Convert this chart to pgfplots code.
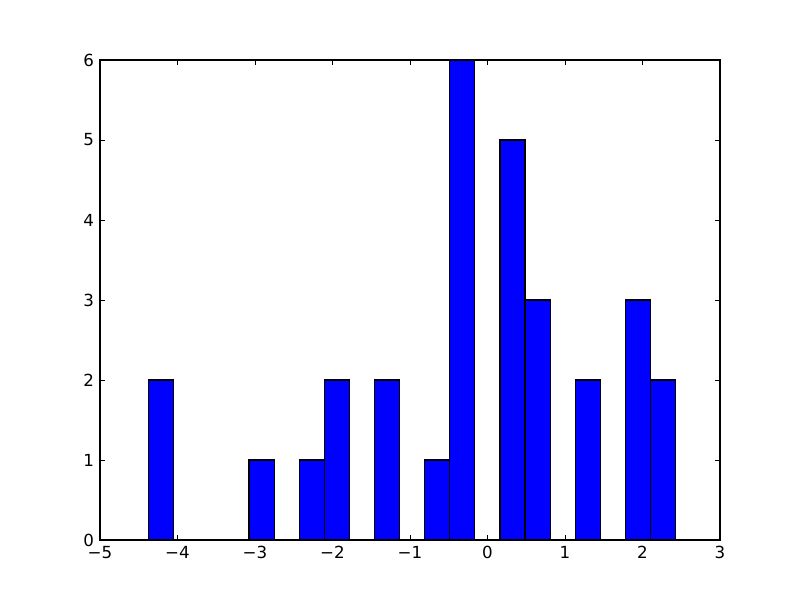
\documentclass[border=0pt]{standalone}
\usepackage{pgfplots}
\pgfplotsset{compat=1.18}
\usepackage{fontspec}
\setmainfont{DejaVu Sans}

\begin{document}
\begin{tikzpicture}
	\path[use as bounding box] (-75pt,-45pt) rectangle (525pt,405pt);
	\begin{axis}[
		at={(0,0)}, anchor=south west,
		scale only axis,
		width=465pt, height=360pt,
		xmin=-5, xmax=3,
		ymin=0, ymax=6,
		xtick={-5,-4,...,3},
		xticklabels={−5,−4,−3,−2,−1,0,1,2,3},
		ytick={0,1,...,6},
		tick align=inside,
		major tick length=4pt,
		axis line style={line width=0.9pt},
		tick style={black, line width=0.6pt},
		/pgf/number format/assume math mode=true,
		tick label style={font=\fontsize{12.5}{14}\selectfont},
		xticklabel style={yshift=-1pt},
		yticklabel style={xshift=-1pt},
	]
	\addplot[ybar interval, fill=blue, draw=black, line width=0.9pt] coordinates {
	(-4.372, 2)
	(-4.048, 0)
	(-3.724, 0)
	(-3.401, 0)
	(-3.077, 1)
	(-2.753, 0)
	(-2.429, 1)
	(-2.105, 2)
	(-1.782, 0)
	(-1.458, 2)
	(-1.134, 0)
	(-0.810, 1)
	(-0.486, 6)
	(-0.163, 0)
	(0.161, 5)
	(0.485, 3)
	(0.809, 0)
	(1.132, 2)
	(1.456, 0)
	(1.780, 3)
	(2.104, 2)
	(2.428, 0)
	};
	\end{axis}
\end{tikzpicture}
\end{document}
